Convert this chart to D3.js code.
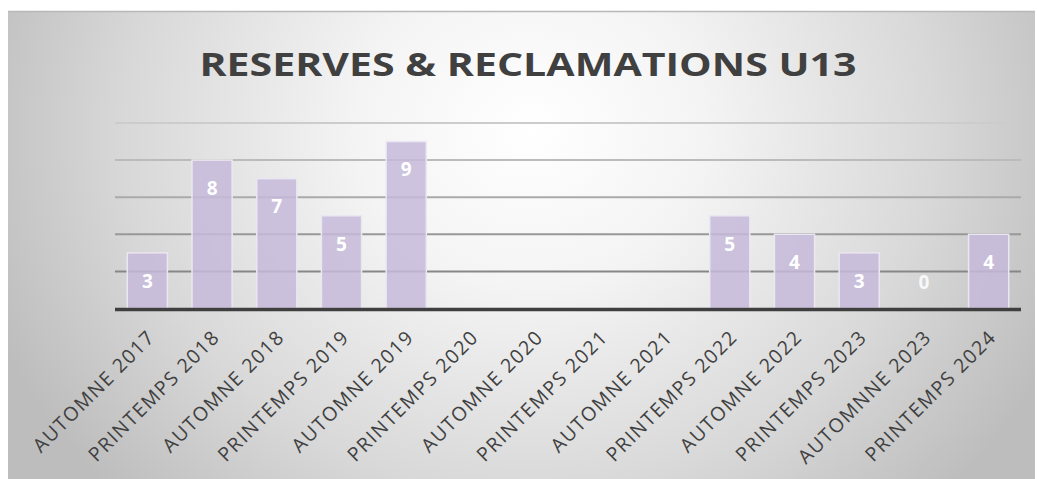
<!DOCTYPE html>
<html>
<head>
<meta charset="utf-8">
<script src="https://cdn.jsdelivr.net/npm/d3@7"></script>
<style>
  html, body { margin: 0; padding: 0; background: #ffffff; }
  svg { display: block; }
</style>
</head>
<body>
<script>
const title = "RESERVES & RECLAMATIONS U13";
const categories = [
  "AUTOMNE 2017", "PRINTEMPS 2018", "AUTOMNE 2018", "PRINTEMPS 2019",
  "AUTOMNE 2019", "PRINTEMPS 2020", "AUTOMNE 2020", "PRINTEMPS 2021",
  "AUTOMNE 2021", "PRINTEMPS 2022", "AUTOMNE 2022", "PRINTEMPS 2023",
  "AUTOMNNE 2023", "PRINTEMPS 2024"
];
const values = [3, 8, 7, 5, 9, null, null, null, null, 5, 4, 3, 0, 4];
const gridTicks = [2, 4, 6, 8, 10];

const W = 1037, H = 479;
const svg = d3.select("body").append("svg").attr("width", W).attr("height", H);
const defs = svg.append("defs");

const grad = defs.append("radialGradient")
  .attr("id", "bg").attr("gradientUnits", "userSpaceOnUse")
  .attr("cx", 530).attr("cy", 130).attr("r", 580)
  .attr("gradientTransform", "translate(530,130) scale(1,0.9) translate(-530,-130)");
grad.append("stop").attr("offset", 0).attr("stop-color", "#ffffff");
grad.append("stop").attr("offset", 0.3).attr("stop-color", "#f4f4f4");
grad.append("stop").attr("offset", 0.7).attr("stop-color", "#d8d8d8");
grad.append("stop").attr("offset", 1).attr("stop-color", "#bdbdbd");

svg.append("rect").attr("x", 8).attr("y", 11).attr("width", 1027).attr("height", H - 11)
  .attr("fill", "url(#bg)");
svg.append("line").attr("x1", 8).attr("x2", 1035).attr("y1", 11.5).attr("y2", 11.5)
  .attr("stroke", "#b8b8b8").attr("stroke-width", 1.5);

const x = d3.scaleBand().domain(categories).range([115, 1021])
  .paddingInner(0.38).paddingOuter(0.19);
const y = d3.scaleLinear().domain([0, 10]).range([308.5, 123]);

// title
svg.append("text").attr("x", 528).attr("y", 76).attr("text-anchor", "middle")
  .attr("font-family", "'Open Sans', Lato, sans-serif").attr("font-weight", 700)
  .attr("font-size", 32).attr("fill", "#404040")
  .attr("textLength", 657).attr("lengthAdjust", "spacingAndGlyphs")
  .text(title);

// gridlines
const gridColor = d3.scaleLinear().domain([2, 10]).range(["#878787", "#cccccc"]);
svg.append("g").selectAll("line").data(gridTicks).join("line")
  .attr("x1", 115).attr("x2", 1021)
  .attr("y1", d => y(d)).attr("y2", d => y(d))
  .attr("stroke", d => gridColor(d)).attr("stroke-width", 2);

// bars
const data = categories.map((c, i) => ({ c, v: values[i] }));
svg.append("g").selectAll("rect").data(data.filter(d => d.v !== null && d.v > 0)).join("rect")
  .attr("x", d => x(d.c)).attr("width", x.bandwidth())
  .attr("y", d => y(d.v)).attr("height", d => y(0) - y(d.v))
  .attr("fill", "#c6badb").attr("fill-opacity", 0.85)
  .attr("stroke", "#ebe7f0").attr("stroke-width", 1.5);

// baseline axis
svg.append("line").attr("x1", 115).attr("x2", 1021)
  .attr("y1", y(0) + 1).attr("y2", y(0) + 1)
  .attr("stroke", "#3f3f3f").attr("stroke-width", 3.5);

// data labels
svg.append("g").selectAll("text").data(data.filter(d => d.v !== null)).join("text")
  .attr("x", d => x(d.c) + x.bandwidth() / 2)
  .attr("y", d => Math.min(y(d.v) + 28, y(0) - 26))
  .attr("dy", "0.36em").attr("text-anchor", "middle")
  .attr("font-family", "'Open Sans', Lato, sans-serif").attr("font-weight", 700)
  .attr("font-size", 19).attr("fill", "#ffffff")
  .attr("fill-opacity", d => d.v === 0 ? 0.85 : 1)
  .text(d => d.v);

// x labels
const labelFont = "'Open Sans', Lato, sans-serif";
const labelSize = 19.5;
const probe = svg.append("text").attr("font-family", labelFont)
  .attr("font-size", labelSize).text(categories[0]);
const natural = probe.node().getComputedTextLength();
probe.remove();
const spacing = Math.max(0, (163 - natural) / categories[0].length);

svg.append("g").selectAll("text").data(categories).join("text")
  .attr("transform", d => `translate(${x(d) + x.bandwidth() / 2 + 3 + spacing * 0.7},${y(0) + 24 + spacing * 0.7}) rotate(-45)`)
  .attr("text-anchor", "end").attr("dy", "0.35em")
  .attr("font-family", labelFont)
  .attr("font-size", labelSize).attr("letter-spacing", spacing).attr("fill", "#404040")
  .text(d => d);
</script>
</body>
</html>
